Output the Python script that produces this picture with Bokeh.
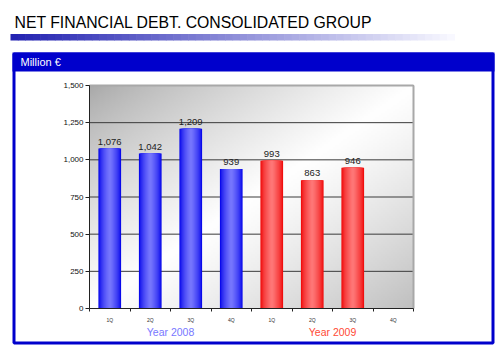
import numpy as np
from bokeh.plotting import figure
from bokeh.models import (ColumnDataSource, FixedTicker, NumeralTickFormatter,
                          Label, BoxAnnotation, Range1d, LinearAxis)
from bokeh.core.properties import value
from bokeh.embed import file_html
from bokeh.resources import INLINE

# ---- data ----
quarters = ["1Q", "2Q", "3Q", "4Q", "1Q", "2Q", "3Q", "4Q"]
debt_2008 = [1076, 1042, 1209, 939]
debt_2009 = [993, 863, 946]
years = ["Year 2008", "Year 2009"]
y_ticks = [0, 250, 500, 750, 1000, 1250, 1500]
title_text = "NET FINANCIAL DEBT. CONSOLIDATED GROUP"
unit_text = "Million €"

W, H = 500, 352
L, R, T, B = 89, 413, 85, 308  # plot-area edges in canvas px
NX, YMAX = len(quarters), 1500
ppx = (R - L) / NX
ppy = (B - T) / YMAX

p = figure(width=W, height=H, output_backend="svg", toolbar_location=None,
           x_axis_location=None, y_axis_location=None,
           x_range=Range1d(-L / ppx, NX + (W - R) / ppx),
           y_range=Range1d(-(H - B) / ppy, YMAX + T / ppy),
           min_border=0, min_border_left=0, min_border_right=0,
           min_border_top=0, min_border_bottom=0,
           background_fill_color="white", border_fill_color="white")
p.outline_line_color = None
p.grid.visible = False

def sx(px):
    return px

def sy(py):
    return H - py

# ---- plot-area background gradient ----
nx, ny = 162, 112
X, Y = np.meshgrid(np.linspace(0, 1, nx), np.linspace(0, 1, ny))
d = (X + (1 - Y)) / 2.0
g = np.where(d < 0.5, 168 + (255 - 168) * (d / 0.5) ** 0.8,
             255 - (255 - 192) * ((d - 0.5) / 0.5) ** 1.2)
g = g.astype(np.uint32)
img = (np.uint32(255) << 24) | (g << 16) | (g << 8) | g
p.image_rgba(image=[img.astype(np.uint32)], x=0, y=0, dw=NX, dh=YMAX, level="image")

# grid lines
p.segment(x0=[0] * (len(y_ticks) - 1), x1=[NX] * (len(y_ticks) - 1),
          y0=y_ticks[1:], y1=y_ticks[1:], line_color="#3a3a3a", line_width=1)
# plot-area border (top / right)
p.segment(x0=[0, NX], x1=[NX, NX], y0=[YMAX, 0], y1=[YMAX, YMAX],
          line_color="#a8a8a8", line_width=2)

# ---- axes ----
yax = LinearAxis(fixed_location=0, bounds=(0, YMAX))
yax.ticker = FixedTicker(ticks=y_ticks, minor_ticks=[])
yax.formatter = NumeralTickFormatter(format="0,0")
yax.major_label_text_font = "Liberation Sans"
yax.major_label_text_font_size = "8px"
yax.major_label_text_color = "#111111"
yax.axis_line_color = "#222222"
yax.major_tick_line_color = "#222222"
yax.major_tick_out = 4
yax.major_tick_in = 0
yax.minor_tick_line_color = None
yax.major_label_standoff = 2
p.add_layout(yax, "left")

centers = [i + 0.5 for i in range(NX)]
xax = LinearAxis(fixed_location=0, bounds=(0, NX))
xax.ticker = FixedTicker(ticks=centers, minor_ticks=list(range(NX + 1)))
xax.major_label_overrides = {c: q for c, q in zip(centers, quarters)}
xax.major_label_text_font = "Liberation Sans"
xax.major_label_text_font_size = "5px"
xax.major_label_text_color = "#333333"
xax.major_tick_out = 0
xax.major_tick_in = 0
xax.minor_tick_out = 3
xax.minor_tick_in = 0
xax.minor_tick_line_color = "#222222"
xax.axis_line_color = "#222222"
xax.major_label_standoff = 5
p.add_layout(xax, "below")

# ---- bars with cylinder shading ----
bw = 0.56
def shaded_bars(xv, yv, edge, center):
    n = 12
    for k in range(n):
        t = k / n
        w = bw * (1 - t) ** 0.9
        c = tuple(int(edge[i] + (center[i] - edge[i]) * (t ** 0.7)) for i in range(3))
        p.vbar(x=xv, top=yv, width=w, bottom=0, fill_color="#%02x%02x%02x" % c,
               line_color=None)

x08 = centers[:len(debt_2008)]
x09 = centers[4:4 + len(debt_2009)]
shaded_bars(x08, debt_2008, (5, 5, 235), (125, 125, 255))
shaded_bars(x09, debt_2009, (240, 10, 10), (255, 125, 125))

vals = debt_2008 + debt_2009
lab_src = ColumnDataSource(dict(x=x08 + x09, y=vals, t=["{:,}".format(v) for v in vals]))
p.text(x="x", y="y", text="t", source=lab_src, text_align="center",
       text_baseline="alphabetic", y_offset=-7, text_font=value("Liberation Sans"),
       text_font_size="9.5px", text_color="#222222")

# ---- year labels ----
p.add_layout(Label(x=2, y=sy(331), y_units="screen", text=years[0], text_align="center",
                   text_baseline="alphabetic",
                   text_font="Liberation Sans", text_font_size="10.5px", text_color="#7878ff"))
p.add_layout(Label(x=6, y=sy(331), y_units="screen", text=years[1], text_align="center",
                   text_baseline="alphabetic",
                   text_font="Liberation Sans", text_font_size="10.5px", text_color="#ff4a35"))

# ---- page decorations ----
p.add_layout(Label(x=sx(14), y=sy(22), x_units="screen", y_units="screen",
                   text=title_text, text_baseline="alphabetic",
                   text_font="Liberation Sans", text_font_size="15.8px", text_color="#000000"))
n = 60
x0, x1 = 10, 454
for i in range(n):
    t = i / (n - 1)
    c = (int(35 + (248 - 35) * t), int(35 + (248 - 35) * t), int(178 + (255 - 178) * t))
    p.add_layout(BoxAnnotation(left=sx(x0 + (x1 - x0) * i / n),
                               right=sx(x0 + (x1 - x0) * (i + 1) / n + 0.6),
                               top=sy(33.5), bottom=sy(40),
                               left_units="screen", right_units="screen",
                               top_units="screen", bottom_units="screen",
                               fill_color="#%02x%02x%02x" % c, fill_alpha=1, line_color=None,
                               level="underlay"))
p.add_layout(BoxAnnotation(left=sx(12), right=sx(494), top=sy(52), bottom=sy(71),
                           left_units="screen", right_units="screen",
                           top_units="screen", bottom_units="screen",
                           fill_color="#0000cc", fill_alpha=1, line_color=None, level="underlay"))
p.add_layout(BoxAnnotation(left=sx(13.5), right=sx(492.5), top=sy(53.5), bottom=sy(342.5),
                           left_units="screen", right_units="screen",
                           top_units="screen", bottom_units="screen",
                           fill_color=None, fill_alpha=0, line_color="#0000cc",
                           line_alpha=1, line_width=3, level="underlay"))
p.add_layout(Label(x=sx(20), y=sy(61), x_units="screen", y_units="screen", text=unit_text,
                   text_baseline="alphabetic",
                   text_font="Liberation Sans", text_font_size="11px", text_color="white"))

open("out.html", "w").write(file_html(p, INLINE))
